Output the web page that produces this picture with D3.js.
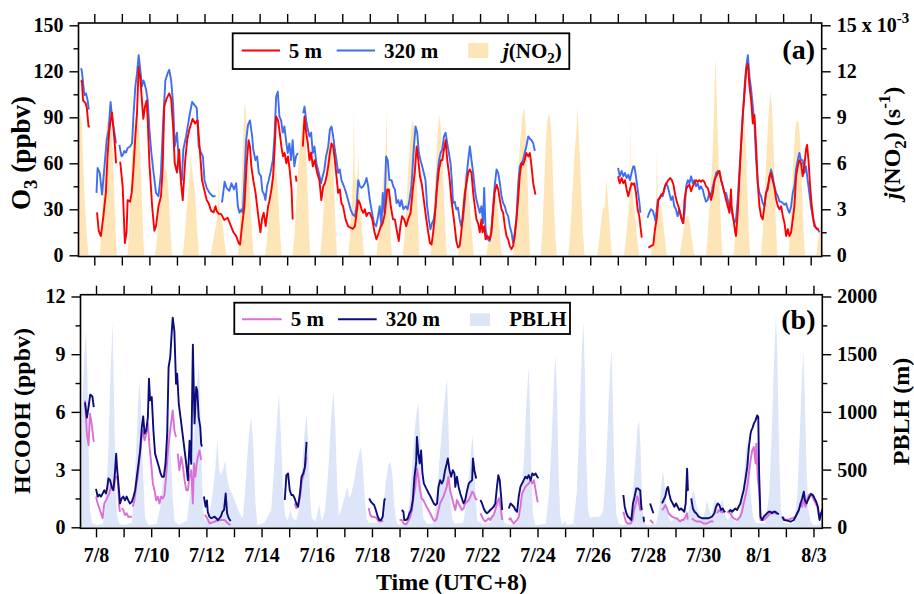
<!DOCTYPE html>
<html><head><meta charset="utf-8">
<script src="https://cdn.jsdelivr.net/npm/d3@7"></script>
<style>
body{margin:0;background:#fff;}
svg{display:block;}
</style></head><body>
<svg id="chart" width="914" height="594"></svg>
<script>
// ---------------- DATA ----------------
const dayTicks = [8,9,10,11,12,13,14,15,16,17,18,19,20,21,22,23,24,25,26,27,28,29,30,31,32,33,34];
const labelDays = [8,10,12,14,16,18,20,22,24,26,28,30,32,34];
const labelText = ["7/8","7/10","7/12","7/14","7/16","7/18","7/20","7/22","7/24","7/26","7/28","7/30","8/1","8/3"];
const o3Ticks = [0,30,60,90,120,150], o3Minor = [15,45,75,105,135];
const jTicks = [0,3,6,9,12,15], jMinor = [1.5,4.5,7.5,10.5,13.5];
const hcTicks = [0,3,6,9,12], hcMinor = [1.5,4.5,7.5,10.5];
const pbTicks = [0,500,1000,1500,2000], pbMinor = [250,750,1250,1750];

// time = day of July (8/1 = 32); O3 in ppbv
const o3_5m = [
[7.52,113],[7.55,114],[7.59,101],[7.64,100],[7.69,99],[7.73,96],[7.77,88],[7.79,84],[7.84,84],null,
[8.1,28],[8.16,16],[8.24,12.5],[8.33,25.5],[8.42,40.7],[8.48,64.5],[8.54,80],[8.59,88],[8.64,93],[8.7,82],[8.75,71],[8.79,60],null,
[8.94,61],[9.03,45],[9.11,8],[9.17,15],[9.21,36],[9.3,35],[9.36,41],[9.42,56],[9.49,77.5],[9.55,92.6],[9.61,123],[9.63,118],[9.66,118],[9.72,103],[9.78,89],[9.84,97],[9.9,101],[9.94,88],[10.0,60],[10.1,32],[10.18,16],[10.24,19],[10.33,32],[10.42,38.5],[10.48,56],[10.54,97],[10.62,102],[10.72,105.6],[10.79,102],[10.86,84],[10.92,60],[11.0,54],[11.08,69],[11.14,49],[11.21,36],[11.3,62],[11.37,75],[11.45,82],[11.57,89],[11.66,86],[11.75,88],[11.82,71],[11.91,49],[12.0,42],[12.08,36],[12.15,34],[12.24,29],[12.33,28],[12.4,32],[12.44,29],[12.52,27],[12.6,27],[12.72,23],[12.84,24.5],[12.96,19],[13.05,15],[13.15,12.5],[13.24,8],[13.29,7],[13.36,19],[13.45,32],[13.53,60],[13.6,75],[13.65,71],[13.7,58],[13.77,49],[13.85,41],[13.97,23],[14.03,15],[14.09,24],[14.15,27.7],[14.22,19],[14.31,32],[14.36,36],[14.43,43],[14.49,51.5],[14.55,71],[14.6,90.5],[14.67,88],[14.73,80],[14.79,71],[14.85,64.5],[14.91,66.7],[14.97,60],[15.03,64.5],[15.09,56],[15.16,43],[15.2,23.4],null,
[15.31,52],[15.34,48],null,
[15.57,71],[15.63,90.5],[15.69,80],[15.75,73],[15.81,62],[15.87,67],[15.93,58],[16.0,62],[16.09,53.7],[16.17,49],[16.24,36],[16.31,45],[16.37,47],[16.43,51.5],[16.49,58],[16.55,66.7],[16.61,73],[16.67,71],[16.73,62],[16.79,51.5],[16.85,40.7],[16.91,43],[16.97,34],[17.03,32],[17.12,23.4],[17.21,19],[17.3,18],[17.38,17.3],[17.46,19],[17.52,27.7],[17.58,36],[17.64,34],[17.7,30],[17.76,27.7],[17.82,30],[17.88,25.5],[17.94,27.7],[18.0,27.7],[18.09,23.4],[18.17,15],[18.24,10.4],[18.33,15],[18.4,19],[18.47,21],[18.55,27.7],[18.63,43],[18.69,43],[18.76,32],[18.84,23.4],[18.91,23.4],[18.99,15],[19.05,9.3],[19.11,19],[19.17,25.5],[19.25,23.4],[19.32,19],[19.39,23.4],[19.48,27.7],[19.56,43],[19.63,53.7],[19.7,71],[19.76,62],[19.82,51.5],[19.88,47],[19.96,36],[20.05,23.4],[20.12,15],[20.18,8],[20.24,7],[20.3,15],[20.36,25.5],[20.42,40.7],[20.51,56],[20.58,62],[20.63,62],[20.69,69],[20.75,75],[20.81,62],[20.87,53.7],[20.9,49],[20.96,36],[21.02,27.7],[21.08,19],[21.14,9.3],[21.2,5],[21.26,6],[21.32,15],[21.38,27.7],[21.45,40.7],[21.51,47],[21.57,53.7],[21.63,56],[21.69,53.7],[21.75,40.7],[21.81,32],[21.87,23.4],[21.93,21],[21.99,15],[22.05,23.4],[22.09,15],[22.15,19],[22.2,10.4],[22.27,12.6],[22.35,10.4],[22.41,15],[22.47,27.7],[22.53,40.7],[22.6,46],[22.66,43],[22.72,36],[22.78,30],[22.84,27.7],[22.9,19],[22.96,12.6],[23.02,10.4],[23.08,6],[23.14,4],[23.2,6],[23.26,12.6],[23.32,23.4],[23.38,36],[23.44,51.5],[23.5,60],[23.56,59],[23.62,62],[23.68,66.7],[23.75,64.5],[23.81,66.7],[23.87,58],[23.93,47],[24.01,39.6],null,
[27.01,51.5],[27.07,47],[27.14,50.4],[27.2,47],[27.26,49],[27.32,43],[27.38,38.5],[27.44,43],[27.5,47],[27.56,46],[27.6,47],[27.66,40.7],[27.72,30],[27.78,25.5],[27.82,19],[27.87,11.5],null,
[28.11,5],[28.2,6],[28.29,7],[28.35,17],[28.41,23.4],[28.47,36],[28.53,37.4],[28.59,39.6],[28.65,40.7],[28.71,45],[28.77,47],[28.83,49],[28.9,50.4],[28.96,49],[29.02,46],[29.08,39.6],[29.14,35],[29.2,32],[29.26,27.7],[29.32,23.4],[29.38,21],[29.42,36],[29.48,43],[29.54,45],[29.6,46],[29.66,41.8],[29.72,45],[29.78,47],[29.84,49],[29.9,48],[29.96,49],[30.02,48],[30.08,49],[30.14,48],[30.2,45],[30.26,44],[30.32,40.7],[30.38,36],[30.45,40.7],[30.51,49],[30.57,51.5],[30.63,53.7],[30.69,55],[30.75,49],[30.81,45],[30.87,40.7],[30.93,36],[30.99,32],[31.05,27.7],[31.11,43],[31.13,32],[31.2,23.4],[31.26,15],[31.29,12.6],[31.35,27.7],[31.41,49],[31.47,71],[31.53,90.5],[31.6,105.6],[31.66,121],[31.72,125],[31.78,110],[31.84,101],[31.9,86],[31.96,91.5],[32.02,71],[32.08,47],[32.14,32],[32.2,25.5],[32.26,23.4],[32.32,32],[32.38,40.7],[32.44,43],[32.5,51.5],[32.56,53.7],[32.62,49],[32.68,45],[32.75,36],[32.81,32],[32.87,30],[32.93,32],[32.99,25.5],[33.05,21],[33.11,12.6],[33.17,17],[33.23,12.6],[33.29,15],[33.35,23.4],[33.41,32],[33.47,51.5],[33.53,58],[33.59,62],[33.65,60],[33.71,51.5],[33.77,58],[33.83,69],[33.87,72],[33.92,62],[33.98,45],[34.04,32],[34.1,23.4],[34.16,19],[34.23,17],[34.3,17]
];

const o3_320m = [
[7.52,122],[7.55,120],[7.58,115],[7.64,104.5],[7.7,105.6],[7.76,101],[7.8,95],null,
[8.08,40.7],[8.12,57],[8.2,53.7],[8.28,39.6],[8.36,56],[8.45,75],[8.52,82],[8.59,100],[8.66,88],[8.73,80],[8.79,73],null,
[8.91,72],[8.99,64.5],[9.05,66],[9.09,68],[9.15,67],[9.21,70],[9.3,71],[9.37,73],[9.42,90.5],[9.49,110],[9.55,118.6],[9.61,130.5],[9.67,121],[9.73,110],[9.78,114],[9.81,113],[9.88,108],[9.94,101],[10.0,82],[10.07,67],[10.15,54],[10.24,40.7],[10.33,38.5],[10.42,54],[10.5,88],[10.58,114],[10.66,118.6],[10.72,121],[10.79,114],[10.86,99],[10.92,71],[11.0,80],[11.08,58],[11.18,49],[11.23,69],[11.33,77.5],[11.45,90.5],[11.55,100],[11.64,98],[11.72,96],[11.79,71],[11.88,66.7],[11.94,64.5],[12.0,49],[12.08,44],[12.18,40.7],[12.3,38.5],[12.4,38.5],null,
[12.6,35],[12.64,35],[12.73,48],[12.8,44],[12.9,42],[12.98,47],[13.07,43],[13.15,47],[13.21,32],[13.27,27.7],[13.35,30],[13.39,27.7],[13.45,49],[13.51,75],[13.58,85],[13.65,88],[13.73,77.5],[13.77,69],[13.85,62],[13.91,64.5],[13.97,53.7],[14.05,51.5],[14.1,42],[14.16,40],[14.21,36],[14.27,45],[14.33,49],[14.39,53.7],[14.48,62],[14.54,77.5],[14.6,103.5],[14.66,106.7],[14.72,90.5],[14.78,88],[14.84,80],[14.9,84],[14.96,75],[15.02,66.7],[15.08,73],[15.14,62],[15.2,75],[15.26,58],[15.32,64.5],[15.39,66.7],null,
[15.58,92.6],[15.63,97],[15.69,88],[15.75,82],[15.81,77.5],[15.87,80],[15.93,66.7],[15.99,71],[16.06,60],[16.15,53.7],[16.23,47],[16.29,51.5],[16.35,56],[16.41,64.5],[16.49,71],[16.55,82],[16.61,84],[16.67,77.5],[16.73,69],[16.79,62],[16.85,53.7],[16.91,56],[16.97,49],[17.06,45],[17.14,40.7],[17.21,36],[17.3,30],[17.38,26.6],[17.46,25.5],[17.52,32],[17.58,49],[17.64,45],[17.7,44],[17.76,45],[17.82,47],[17.88,50.4],[17.94,45],[18.0,36],[18.06,30],[18.15,21],[18.23,19],[18.3,25.5],[18.36,32],[18.42,19],[18.47,40.7],[18.53,27.7],[18.59,64.5],[18.65,62],[18.71,49],[18.79,49],[18.85,45],[18.91,43],[18.97,34],[19.03,36],[19.09,32],[19.15,36],[19.22,30],[19.3,32],[19.37,30],[19.44,36],[19.51,45],[19.6,71],[19.66,84],[19.72,80],[19.78,66.7],[19.84,62],[19.9,58],[19.96,53.7],[20.02,49],[20.08,32],[20.14,23.4],[20.2,17],[20.26,21],[20.32,23.4],[20.39,32],[20.45,51.5],[20.51,62],[20.57,66.7],[20.63,69],[20.69,77.5],[20.75,80],[20.81,73],[20.87,66.7],[20.93,60],[20.98,48],[21.02,34],[21.08,35],[21.14,30],[21.2,31],[21.26,23.4],[21.32,19],[21.38,23.4],[21.45,36],[21.51,51.5],[21.57,62],[21.63,71],[21.69,62],[21.75,53.7],[21.81,43],[21.87,36],[21.93,32],[21.99,27.7],[22.05,32],[22.11,21],[22.15,44],[22.2,17],[22.27,10.4],[22.35,9.3],[22.41,15],[22.47,32],[22.53,45],[22.6,56],[22.66,53.7],[22.72,47],[22.78,38.5],[22.84,34],[22.9,32],[22.96,27.7],[23.02,25.5],[23.08,19],[23.14,15],[23.2,8],[23.26,15],[23.32,23.4],[23.38,45],[23.44,58],[23.5,60],[23.56,62],[23.62,66.7],[23.68,71],[23.75,77.5],[23.81,76],[23.87,75],[23.93,73],[23.99,68],null,
[27.01,57],[27.07,51.5],[27.14,55],[27.2,51.5],[27.26,53.7],[27.32,50.4],[27.38,52.6],[27.44,49],[27.5,53.7],[27.56,58],[27.6,58],[27.66,51.5],[27.72,43],[27.78,35],[27.82,27.7],null,
[28.08,24.5],[28.14,27.7],[28.2,30],[28.27,29],[28.33,25.5],[28.37,22.3],[28.45,36],[28.51,37.4],[28.57,39.6],[28.63,38.5],[28.69,43],[28.75,47],[28.81,45],[28.87,40.7],[28.93,36],[28.99,38.5],[29.05,32],[29.11,30],[29.17,25.5],[29.23,30],[29.29,25.5],[29.36,21],[29.42,27.7],[29.48,45],[29.54,49],[29.6,47],[29.66,51.5],[29.72,47],[29.78,49],[29.84,45],[29.9,47],[29.96,43],[30.02,45],[30.08,43],[30.14,38.5],[30.2,35],[30.26,36],[30.32,40.7],[30.38,38.5],[30.45,45],[30.51,49],[30.57,53.7],[30.63,55],[30.69,53.7],[30.75,49],[30.81,45],[30.87,40.7],[30.93,40.7],[30.99,36],[31.05,32],[31.11,30],[31.17,25.5],[31.23,21],[31.29,23.4],[31.35,36],[31.41,53.7],[31.47,71],[31.53,88],[31.6,110],[31.66,123],[31.72,130.5],[31.78,116.5],[31.84,108],[31.9,97],[31.96,86],[32.02,62],[32.08,47],[32.14,40.7],[32.2,38.5],[32.26,34],[32.32,32],[32.38,40.7],[32.44,45],[32.5,49],[32.56,56],[32.62,51.5],[32.68,45],[32.75,40.7],[32.81,38.5],[32.87,35],[32.93,35],[32.99,34],[33.05,33],[33.11,34],[33.17,30],[33.23,27.7],[33.29,32],[33.35,40.7],[33.41,45],[33.47,56],[33.53,62],[33.59,66.7],[33.65,62],[33.71,62],[33.77,53.7],[33.83,58],[33.89,49],[33.95,40.7],[34.01,32],[34.07,25.5],[34.13,19],[34.2,18],[34.26,17],[34.32,15]
];

// j(NO2) in 10^-3 s^-1
const jno2 = [
[7.4,7.8],[7.45,8.8],[7.5,9.2],[7.55,8.6],[7.6,6.0],[7.63,4.6],[7.67,3.0],[7.72,1.5],[7.77,0.4],[7.8,0],
[8.2,0],[8.25,1.2],[8.3,3.5],[8.35,5.8],[8.4,7.5],[8.46,8.6],[8.54,9.1],[8.6,8.8],[8.65,7.8],[8.7,5.5],[8.75,2.8],[8.79,0.8],[8.82,0],
[9.2,0],[9.25,1.2],[9.3,3.5],[9.35,5.8],[9.41,7.8],[9.47,8.9],[9.54,9.2],[9.6,8.8],[9.65,7.5],[9.7,5.0],[9.75,2.5],[9.79,0.6],[9.82,0],
[10.2,0],[10.26,0.8],[10.32,2.2],[10.38,3.5],[10.45,4.6],[10.52,5.4],[10.58,5.8],[10.64,5.3],[10.7,4.0],[10.75,2.2],[10.8,0.5],[10.82,0],
[11.2,0],[11.26,0.8],[11.32,2.2],[11.38,3.6],[11.44,4.8],[11.5,6.8],[11.54,5.6],[11.6,5.0],[11.66,3.8],[11.72,2.0],[11.78,0.5],[11.8,0],
[12.22,0],[12.28,0.6],[12.35,1.3],[12.42,2.0],[12.48,2.8],[12.52,5.1],[12.55,3.0],[12.6,2.4],[12.66,2.0],[12.72,1.0],[12.77,0.3],[12.8,0],
[13.2,0],[13.26,1.2],[13.32,3.5],[13.37,6.0],[13.42,8.5],[13.46,9.9],[13.5,9.5],[13.55,8.0],[13.6,6.0],[13.66,3.8],[13.72,1.6],[13.77,0.3],[13.8,0],
[14.2,0],[14.26,0.8],[14.32,2.2],[14.38,3.8],[14.45,5.5],[14.52,6.5],[14.58,6.0],[14.64,4.8],[14.7,3.0],[14.75,1.2],[14.8,0],
[15.2,0],[15.26,1.2],[15.32,3.2],[15.38,5.2],[15.45,7.0],[15.52,8.2],[15.6,9.0],[15.65,8.4],[15.7,6.5],[15.75,3.8],[15.8,1.2],[15.84,0],
[16.2,0],[16.26,1.2],[16.32,3.0],[16.38,5.0],[16.45,6.8],[16.51,7.9],[16.57,8.4],[16.62,7.8],[16.67,6.0],[16.72,3.5],[16.77,1.2],[16.81,0],
[17.22,0],[17.27,1.0],[17.32,2.8],[17.37,4.5],[17.4,6.0],[17.42,9.6],[17.45,5.5],[17.5,4.8],[17.55,5.2],[17.58,6.7],[17.62,4.5],[17.67,3.0],[17.72,1.5],[17.77,0.4],[17.8,0],
[18.24,0],[18.3,1.0],[18.36,2.5],[18.42,3.8],[18.48,4.8],[18.54,6.0],[18.58,7.0],[18.6,9.7],[18.63,6.5],[18.68,4.5],[18.73,2.5],[18.77,0.8],[18.8,0],
[19.2,0],[19.26,1.2],[19.32,3.2],[19.38,5.2],[19.45,7.2],[19.51,8.4],[19.56,8.9],[19.62,8.2],[19.67,6.3],[19.72,3.8],[19.77,1.3],[19.8,0],
[20.2,0],[20.26,1.2],[20.32,3.2],[20.38,5.2],[20.44,7.3],[20.51,9.15],[20.56,8.6],[20.62,7.0],[20.67,4.8],[20.72,2.5],[20.77,0.6],[20.8,0],
[21.2,0],[21.26,0.8],[21.32,2.2],[21.38,3.8],[21.45,5.5],[21.52,5.0],[21.58,4.2],[21.64,3.0],[21.7,1.6],[21.75,0.5],[21.78,0],
[22.22,0],[22.28,0.6],[22.34,1.5],[22.4,2.4],[22.47,3.3],[22.55,4.0],[22.6,3.6],[22.66,2.7],[22.72,1.5],[22.77,0.4],[22.8,0],
[23.2,0],[23.26,1.2],[23.32,3.2],[23.38,5.2],[23.45,7.3],[23.52,8.8],[23.58,9.6],[23.63,9.2],[23.68,7.5],[23.73,4.5],[23.78,1.6],[23.82,0],
[24.2,0],[24.26,1.5],[24.31,3.8],[24.36,6.2],[24.42,8.3],[24.47,9.15],[24.53,9.1],[24.58,8.2],[24.63,6.0],[24.68,3.3],[24.74,1.0],[24.78,0],
[25.2,0],[25.26,1.2],[25.32,3.0],[25.38,5.0],[25.44,6.8],[25.5,8.2],[25.54,9.65],[25.58,8.0],[25.63,6.0],[25.68,3.8],[25.73,1.6],[25.78,0.3],[25.8,0],
[26.24,0],[26.3,0.6],[26.36,1.6],[26.42,2.6],[26.47,3.2],[26.52,3.0],[26.56,4.2],[26.59,4.9],[26.63,4.0],[26.68,2.6],[26.73,1.2],[26.78,0.2],[26.8,0],
[27.22,0],[27.28,0.8],[27.34,2.0],[27.4,3.2],[27.45,4.0],[27.47,9.05],[27.5,4.5],[27.55,3.8],[27.6,3.0],[27.66,2.0],[27.72,0.8],[27.78,0],
[28.2,0],[28.26,0.8],[28.32,2.0],[28.38,3.0],[28.42,6.7],[28.45,3.4],[28.5,3.3],[28.56,3.2],[28.62,2.6],[28.68,1.6],[28.74,0.5],[28.78,0],
[29.24,0],[29.3,0.6],[29.36,1.4],[29.43,2.1],[29.5,2.6],[29.57,2.5],[29.63,1.9],[29.69,1.1],[29.74,0.4],[29.78,0],
[30.2,0],[30.26,1.2],[30.32,3.0],[30.38,4.8],[30.43,6.2],[30.48,8.5],[30.51,11.0],[30.54,12.9],[30.57,11.5],[30.61,9.0],[30.66,6.0],[30.71,3.5],[30.76,1.2],[30.8,0],
[31.2,0],[31.26,1.2],[31.32,3.2],[31.38,5.2],[31.44,7.2],[31.5,8.6],[31.55,9.2],[31.6,8.8],[31.65,7.0],[31.7,4.3],[31.75,1.6],[31.8,0],
[32.2,0],[32.26,1.5],[32.32,3.8],[32.38,6.0],[32.44,8.2],[32.49,9.6],[32.54,10.7],[32.59,9.8],[32.64,7.8],[32.69,4.8],[32.74,2.0],[32.79,0],
[33.2,0],[33.26,1.8],[33.32,4.2],[33.38,6.5],[33.44,8.2],[33.5,8.8],[33.56,8.7],[33.62,7.6],[33.67,5.3],[33.72,2.6],[33.77,0.6],[33.8,0],
[34.2,0],[34.26,0.8],[34.32,1.7],[34.38,2.4],[34.42,2.8]
];

// HCOOH in ppbv
const hc_5m = [
[7.6,6.6],[7.67,4.87],[7.73,4.27],[7.78,5.9],[7.84,5.4],[7.92,4.44],null,
[8.0,1.6],[8.06,1.24],[8.12,1.0],[8.18,0.73],[8.24,0.47],[8.3,1.24],[8.36,1.4],[8.42,1.6],[8.48,1.76],[8.54,2.1],[8.6,1.93],[8.67,2.28],[8.73,2.63],[8.79,2.63],[8.84,1.07],[8.87,0.8],null,
[8.93,1.0],[8.99,0.9],[9.05,0.64],[9.11,0.73],[9.17,0.55],[9.3,0.55],null,
[9.33,1.07],[9.39,1.4],[9.45,2.1],[9.51,2.63],[9.57,3.5],[9.63,4.35],[9.69,5.04],[9.76,4.52],[9.82,4.87],[9.88,5.4],[9.94,4.18],[10.0,3.32],[10.06,2.28],[10.12,1.93],[10.18,1.4],[10.24,1.6],[10.3,1.24],[10.36,1.6],[10.42,1.5],[10.48,1.68],[10.54,2.63],[10.6,3.83],[10.66,4.7],[10.72,5.4],[10.78,6.08],[10.84,5.04],[10.9,4.7],null,
[10.96,3.83],[11.02,2.97],[11.09,3.66],[11.15,3.14],[11.21,2.45],[11.27,1.93],[11.33,1.93],[11.39,2.63],[11.45,2.97],[11.51,1.24],[11.55,3.32],[11.6,2.63],[11.65,3.32],[11.69,3.66],[11.75,4.0],[11.81,3.5],null,
[11.94,0.64],[12.0,0.55],[12.12,0.2],[12.3,0.3],[12.48,0.38],[12.66,0.38],[12.78,0.2],[12.88,0.12],null,
[15.2,1.24],[15.26,1.0],[15.32,1.07],[15.4,1.6],[15.46,2.45],[15.52,2.71],[15.59,3.2],[15.63,3.66],null,
[17.88,1.0],[17.94,0.64],[18.0,0.55],[18.08,0.55],[18.17,0.47],[18.24,0.3],[18.33,0.3],[18.41,0.33],null,
[19.0,0.38],[19.08,0.38],[19.15,0.2],[19.21,0.15],[19.27,0.2],[19.33,0.38],[19.39,0.55],[19.45,0.9],[19.51,1.6],[19.57,2.1],[19.63,3.05],[19.68,2.63],[19.74,1.93],[19.8,1.5],[19.86,1.42],[19.92,1.24],[19.98,1.07],[20.05,0.9],[20.11,0.73],[20.17,0.55],[20.23,0.38],[20.29,0.33],[20.35,0.47],[20.41,0.9],[20.47,1.24],[20.53,1.42],[20.59,1.6],[20.65,1.85],[20.71,2.1],[20.77,2.63],[20.83,1.93],[20.89,1.6],[20.95,1.24],[21.02,0.9],[21.08,1.42],[21.14,1.24],[21.2,1.07],[21.26,0.9],[21.32,0.98],[21.38,1.24],[21.45,1.33],[21.51,1.42],[21.57,1.6],[21.63,1.85],[21.69,1.76],[21.75,1.5],[21.81,1.42],null,
[21.93,0.73],[21.99,0.55],[22.05,0.38],[22.11,0.3],[22.17,0.38],[22.23,0.47],[22.29,0.38],[22.35,0.55],[22.41,0.64],[22.47,0.9],[22.53,1.24],[22.6,1.5],[22.66,1.07],[22.72,0.38],null,
[22.96,0.38],[23.02,0.47],[23.08,0.3],[23.14,0.2],[23.2,0.3],[23.26,0.38],[23.32,0.55],[23.38,1.07],[23.44,1.76],[23.5,1.93],[23.56,2.1],[23.62,2.2],[23.68,2.28],[23.75,2.45],[23.81,2.28],[23.87,2.45],[23.93,1.93],[23.99,1.42],[24.01,1.3],null,
[27.11,0.81],[27.2,0.3],[27.26,0.2],[27.38,0.2],[27.44,0.38],[27.5,0.9],[27.56,1.24],[27.62,1.6],[27.66,1.42],[27.72,0.9],[27.75,0.85],null,
[27.84,0.3],[27.86,0.25],null,[28.08,0.38],[28.2,0.2],null,
[28.51,0.9],[28.57,0.98],[28.63,1.16],[28.69,0.98],[28.75,0.73],[28.81,0.64],[28.87,0.55],[28.93,0.52],[28.99,0.47],[29.05,0.47],[29.11,0.38],[29.17,0.3],[29.23,0.38],[29.29,0.38],[29.36,0.55],[29.42,0.73],[29.44,0.4],null,
[29.6,0.47],[29.66,0.38],[29.78,0.3],[29.9,0.3],[30.02,0.2],[30.14,0.2],[30.26,0.3],[30.38,0.3],null,
[30.51,0.73],[30.57,0.9],[30.63,0.81],[30.69,0.81],[30.73,0.75],null,
[30.87,0.81],[30.99,0.73],[31.05,0.55],[31.11,0.47],[31.23,0.38],[31.35,0.55],[31.41,0.81],[31.47,1.24],[31.53,1.6],[31.6,2.1],[31.66,2.8],[31.72,3.49],[31.78,4.0],[31.84,4.18],[31.9,3.32],[31.93,4.35],[31.98,2.63],[32.03,1.93],[32.08,0.38],[32.2,0.38],[32.32,0.55],[32.44,0.73],[32.56,0.81],[32.62,0.73],[32.68,0.72],null,
[32.87,0.55],[32.99,0.38],[33.11,0.41],[33.23,0.47],[33.35,0.55],[33.41,0.73],[33.47,0.9],[33.53,1.24],[33.59,1.07],[33.65,1.5],[33.71,1.07],[33.77,1.42],[33.83,1.68],[33.9,1.76],[33.96,1.6],[34.02,1.42],[34.08,1.24],[34.14,1.07],[34.2,0.55],[34.26,0.73],[34.33,0.86]
];

const hc_320m = [
[7.6,6.5],[7.67,5.7],[7.73,6.25],[7.79,6.9],[7.87,6.8],[7.92,6.25],null,
[8.0,2.0],[8.06,1.6],[8.12,1.7],[8.18,1.6],[8.24,1.76],[8.3,1.93],[8.36,1.76],[8.4,2.0],[8.45,2.54],[8.51,2.45],[8.57,2.1],[8.63,1.93],[8.69,2.9],[8.73,3.83],[8.76,3.14],[8.81,2.28],[8.87,1.24],[8.93,1.5],[8.99,1.6],[9.05,1.4],[9.11,1.6],[9.17,1.4],[9.23,1.24],[9.3,1.33],[9.36,1.6],[9.42,1.93],[9.48,2.63],[9.54,3.3],[9.6,4.0],[9.66,5.2],[9.71,5.77],[9.76,4.87],[9.82,5.04],[9.88,5.73],[9.92,7.72],[9.96,6.6],[10.02,6.77],[10.08,5.04],[10.14,3.83],[10.21,3.49],[10.28,3.14],[10.34,2.8],[10.39,2.63],[10.46,2.63],[10.52,3.32],[10.58,4.87],[10.63,8.32],[10.69,8.84],[10.74,10.05],[10.78,10.9],[10.84,10.2],[10.9,7.46],[10.94,7.98],[11.0,6.42],[11.09,5.4],[11.15,4.7],[11.21,4.0],[11.27,3.3],[11.33,2.45],[11.39,4.5],[11.45,3.3],[11.51,9.5],[11.57,5.4],[11.63,7.3],[11.67,7.1],[11.72,5.73],[11.78,5.2],[11.81,4.35],[11.84,4.2],null,
[11.91,1.6],[11.97,1.07],[12.02,1.4],[12.05,0.8],[12.11,0.55],[12.18,0.47],[12.3,0.55],[12.42,0.38],[12.52,0.55],[12.58,0.8],[12.64,0.9],[12.7,1.76],[12.75,0.73],[12.81,0.47],[12.88,0.33],null,
[14.84,1.42],[14.9,2.71],[14.96,2.8],[15.02,1.93],[15.08,1.68],[15.14,1.68],[15.2,1.5],[15.26,1.24],[15.32,1.07],[15.39,1.76],[15.45,2.63],[15.51,2.8],[15.57,3.14],[15.63,4.44],null,
[17.9,1.5],[17.96,1.33],[18.02,1.24],[18.08,1.16],[18.14,0.9],[18.21,0.55],[18.27,0.38],[18.33,0.38],[18.39,0.55],[18.45,1.42],[18.48,1.5],null,
[19.08,0.9],[19.14,0.81],[19.17,0.38],[19.24,0.38],[19.3,0.47],[19.36,0.73],[19.42,0.9],[19.48,1.42],[19.54,2.63],[19.6,3.32],[19.63,4.7],[19.68,3.83],[19.73,3.32],[19.78,4.0],[19.83,2.8],[19.88,2.28],[19.94,2.1],[20.0,1.93],[20.06,1.76],[20.12,1.6],[20.18,1.42],[20.24,1.24],[20.3,1.16],[20.36,1.24],[20.41,2.1],[20.47,2.45],[20.53,2.28],[20.59,2.45],[20.65,2.97],[20.71,3.32],[20.75,3.58],[20.81,2.97],[20.87,2.63],[20.93,2.97],[20.99,2.8],[21.02,2.1],[21.08,2.63],[21.14,2.1],[21.2,1.76],[21.26,1.5],[21.32,1.24],[21.38,1.42],[21.45,1.93],[21.51,2.28],[21.57,2.37],[21.63,2.45],[21.66,3.58],[21.71,2.97],[21.78,2.54],null,
[21.93,1.42],[21.99,1.24],[22.05,0.98],[22.11,0.81],[22.17,0.73],[22.23,0.81],[22.29,0.9],[22.35,0.98],[22.41,1.07],[22.47,1.24],[22.53,2.1],[22.58,2.71],[22.63,2.45],[22.68,1.6],[22.72,0.9],null,
[22.96,0.98],[23.02,1.24],[23.08,1.16],[23.14,1.07],[23.2,0.9],[23.26,0.81],[23.32,1.6],[23.38,2.1],[23.44,2.28],[23.5,2.45],[23.56,2.63],[23.62,2.54],[23.68,2.71],[23.75,2.45],[23.81,2.8],[23.87,2.71],[23.93,2.8],[23.99,2.63],[24.03,2.55],null,
[27.11,1.68],[27.16,1.07],[27.22,0.73],[27.28,0.55],[27.34,0.47],[27.4,0.38],[27.46,1.24],[27.52,1.6],[27.58,2.02],[27.64,2.02],[27.7,1.93],[27.72,1.93],[27.76,1.07],[27.78,0.9],null,
[27.84,0.55],[27.86,0.3],null,[28.08,1.24],[28.14,0.98],[28.2,0.73],null,
[28.51,1.24],[28.57,1.42],[28.63,1.6],[28.69,2.02],[28.73,2.1],[28.77,1.76],[28.83,1.42],[28.9,1.24],[28.96,1.07],[29.02,1.24],[29.08,1.07],[29.14,0.9],[29.2,0.98],[29.26,0.9],[29.32,0.81],[29.37,1.24],[29.42,3.05],[29.45,1.93],[29.47,1.9],null,
[29.57,1.5],[29.63,0.98],[29.69,0.81],[29.75,0.73],[29.84,0.55],[29.96,0.47],[30.08,0.47],[30.2,0.47],[30.32,0.55],[30.41,0.73],[30.47,1.07],[30.53,1.24],[30.59,1.16],[30.65,0.9],[30.71,0.98],[30.77,0.81],[30.8,0.86],null,
[30.93,0.81],[30.99,0.9],[31.05,0.81],[31.11,0.9],[31.17,0.98],[31.23,0.9],[31.29,1.07],[31.35,1.24],[31.41,1.6],[31.47,1.93],[31.53,2.45],[31.6,3.14],[31.66,4.18],[31.72,4.87],[31.75,5.04],[31.8,5.2],[31.84,5.39],[31.9,5.56],[31.96,5.82],[32.0,5.73],[32.03,2.8],[32.08,0.55],[32.14,0.38],[32.2,0.55],[32.26,0.64],[32.32,0.73],[32.38,0.81],[32.44,0.81],[32.5,0.73],[32.56,0.81],[32.62,0.81],[32.68,0.73],[32.75,0.69],null,
[32.87,0.55],[32.93,0.38],[33.05,0.35],[33.17,0.29],[33.29,0.38],[33.41,0.73],[33.47,0.9],[33.53,1.24],[33.59,1.5],[33.65,1.85],[33.69,1.42],[33.75,1.24],[33.8,1.42],[33.86,1.6],[33.92,1.73],[33.98,1.68],[34.04,1.5],[34.1,1.33],[34.16,1.07],[34.22,0.38],[34.28,0.73],[34.33,0.93]
];

// PBLH in m
const pblh = [
[7.4,500],[7.46,800],[7.52,1150],[7.58,1500],[7.64,1704],[7.69,1300],[7.74,600],[7.78,150],[7.85,40],[8.0,20],[8.25,30],[8.35,200],[8.45,700],[8.52,1300],[8.6,1776],[8.64,1300],[8.7,500],[8.76,100],[8.85,30],[9.0,20],[9.3,40],[9.38,300],[9.46,700],[9.52,1050],[9.57,1272],[9.62,1100],[9.7,500],[9.78,80],[9.9,20],[10.2,30],[10.35,200],[10.45,500],[10.55,800],[10.62,900],[10.7,700],[10.78,250],[10.85,50],[11.0,20],[11.3,60],[11.45,400],[11.55,800],[11.65,1200],[11.72,1416],[11.77,1200],[11.82,600],[11.88,150],[11.95,50],[12.1,80],[12.2,250],[12.3,450],[12.4,754],[12.46,500],[12.52,450],[12.6,500],[12.68,580],[12.75,420],[12.85,330],[12.95,280],[13.05,220],[13.15,150],[13.25,100],[13.32,80],[13.4,300],[13.48,600],[13.56,850],[13.63,950],[13.7,700],[13.78,200],[13.85,20],[14.1,40],[14.35,150],[14.45,500],[14.55,900],[14.63,1171],[14.7,800],[14.78,300],[14.85,100],[14.95,60],[15.05,150],[15.12,80],[15.25,60],[15.35,150],[15.45,450],[15.55,800],[15.63,984],[15.7,700],[15.76,250],[15.82,80],[15.95,50],[16.05,150],[16.09,207],[16.14,100],[16.2,60],[16.3,150],[16.42,500],[16.52,950],[16.6,1186],[16.67,900],[16.74,350],[16.8,100],[16.88,150],[17.0,250],[17.08,330],[17.12,350],[17.18,250],[17.26,300],[17.35,400],[17.45,550],[17.55,650],[17.6,696],[17.66,550],[17.74,250],[17.8,80],[17.88,40],[18.3,40],[18.4,150],[18.5,400],[18.6,540],[18.67,567],[18.74,450],[18.8,200],[18.88,60],[18.95,20],[19.25,30],[19.35,200],[19.45,500],[19.55,850],[19.62,1000],[19.68,1071],[19.74,800],[19.8,300],[19.86,80],[20.0,30],[20.2,30],[20.3,150],[20.42,500],[20.55,900],[20.65,1150],[20.72,1286],[20.77,900],[20.83,300],[20.9,80],[21.0,30],[21.3,40],[21.42,200],[21.52,450],[21.6,700],[21.65,797],[21.7,600],[21.76,250],[21.82,60],[22.0,30],[22.3,40],[22.45,150],[22.55,250],[22.62,280],[22.7,150],[22.8,40],[23.0,20],[23.3,40],[23.42,250],[23.52,650],[23.6,1100],[23.68,1387],[23.73,1000],[23.78,400],[23.84,100],[23.92,20],[24.3,30],[24.42,300],[24.52,800],[24.6,1300],[24.65,1488],[24.7,1200],[24.76,500],[24.82,100],[24.9,20],[25.0,60],[25.06,20],[25.3,30],[25.42,300],[25.52,900],[25.6,1500],[25.66,1790],[25.71,1400],[25.77,600],[25.83,150],[25.9,80],[26.0,90],[26.2,90],[26.3,100],[26.38,150],[26.48,500],[26.58,1100],[26.64,1400],[26.68,1545],[26.72,1200],[26.78,500],[26.85,120],[26.95,30],[27.1,20],[27.3,30],[27.42,200],[27.52,500],[27.62,850],[27.68,927],[27.73,700],[27.78,300],[27.84,60],[27.95,20],[28.3,30],[28.4,150],[28.48,350],[28.54,495],[28.6,380],[28.66,200],[28.75,80],[28.85,50],[29.0,80],[29.1,60],[29.2,70],[29.3,80],[29.45,120],[29.55,230],[29.62,300],[29.66,322],[29.72,250],[29.8,150],[29.9,100],[30.0,80],[30.08,150],[30.15,236],[30.22,150],[30.3,100],[30.38,200],[30.45,250],[30.52,180],[30.6,120],[30.68,250],[30.74,200],[30.8,100],[30.9,60],[31.0,100],[31.08,150],[31.15,60],[31.2,40],[31.35,150],[31.45,350],[31.55,650],[31.6,754],[31.66,600],[31.72,300],[31.8,100],[31.9,40],[32.25,30],[32.4,300],[32.5,900],[32.58,1500],[32.64,1848],[32.69,1500],[32.75,700],[32.82,150],[32.9,40],[33.1,30],[33.3,40],[33.42,300],[33.52,900],[33.58,1300],[33.63,1531],[33.68,1200],[33.75,500],[33.82,150],[33.9,50],[34.0,20],[34.2,20],[34.35,40]
];

// ---------------- DRAWING ----------------
const FONT = '"Liberation Serif","Times New Roman",serif';
const C = {red:"#ff0000", blue:"#3f6ef0", jfill:"#fde5b8", orchid:"#da70d6", navy:"#0c0c7c", pfill:"#dde5f9"};
const svg = d3.select("#chart").attr("font-family", FONT).attr("font-weight","bold");

const A = {left:78.5, right:821.7, top:23, bottom:256.5};
const B = {left:80.5, right:822.3, top:294.7, bottom:528.3};

const xA = d3.scaleLinear().domain([7.427, 34.40]).range([A.left, A.right]);
const xB = d3.scaleLinear().domain([7.438, 34.32]).range([B.left, B.right]);
const yO3 = d3.scaleLinear().domain([0,150]).range([255.3, 25.3]);
const yJ  = d3.scaleLinear().domain([0,15]).range([255.3, 25.3]);
const yHC = d3.scaleLinear().domain([0,12]).range([527.3, 296.5]);
const yPB = d3.scaleLinear().domain([0,2000]).range([527.3, 296.5]);

const defs = svg.append("defs");
defs.append("clipPath").attr("id","clipA").append("rect").attr("x",A.left).attr("y",A.top).attr("width",A.right-A.left).attr("height",A.bottom-A.top);
defs.append("clipPath").attr("id","clipB").append("rect").attr("x",B.left).attr("y",B.top).attr("width",B.right-B.left).attr("height",B.bottom-B.top);

const gA = svg.append("g").attr("clip-path","url(#clipA)");
const gB = svg.append("g").attr("clip-path","url(#clipB)");

// areas
gA.append("path").datum(jno2).attr("fill",C.jfill)
  .attr("d", d3.area().x(d=>xA(d[0])).y0(yJ(0)).y1(d=>yJ(d[1])));
gB.append("path").datum(pblh).attr("fill",C.pfill)
  .attr("d", d3.area().x(d=>xB(d[0])).y0(yPB(0)).y1(d=>yPB(d[1])));

function drawLine(g, data, xs, ys, color){
  g.append("path").datum(data).attr("fill","none").attr("stroke",color).attr("stroke-width",1.9)
   .attr("stroke-linejoin","round")
   .attr("d", d3.line().defined(d=>d!==null).x(d=>xs(d[0])).y(d=>ys(d[1])));
}
drawLine(gA, o3_320m, xA, yO3, C.blue);
drawLine(gA, o3_5m, xA, yO3, C.red);
drawLine(gB, hc_5m, xB, yHC, C.orchid);
drawLine(gB, hc_320m, xB, yHC, C.navy);

// axes
function styleAxis(g, fs){
  g.attr("font-family", FONT).attr("font-size", fs||20).attr("font-weight","bold");
  g.select(".domain").remove();
  g.selectAll(".tick line").attr("stroke","#000").attr("stroke-width",1.4);
  g.selectAll(".tick text").attr("fill","#000");
}
function addAxis(axis, tx, ty){
  const g = svg.append("g").attr("transform",`translate(${tx},${ty})`).call(axis);
  styleAxis(g);
  return g;
}
const fmtDay = d => { const i = labelDays.indexOf(d); return i>=0 ? labelText[i] : ""; };

addAxis(d3.axisTop(xA).tickValues(dayTicks).tickSize(9).tickFormat(""), 0, A.top);
addAxis(d3.axisBottom(xA).tickValues(dayTicks).tickSize(9).tickFormat(""), 0, A.bottom);
addAxis(d3.axisTop(xB).tickValues(dayTicks).tickSize(9).tickFormat(""), 0, B.top);
addAxis(d3.axisBottom(xB).tickValues(dayTicks).tickSize(9).tickPadding(11).tickFormat(fmtDay), 0, B.bottom);

addAxis(d3.axisLeft(yO3).tickValues(o3Ticks).tickSize(9).tickPadding(6).tickFormat(d3.format("d")), A.left, 0);
addAxis(d3.axisLeft(yO3).tickValues(o3Minor).tickSize(5).tickFormat(""), A.left, 0);
const jAx = addAxis(d3.axisRight(yJ).tickValues(jTicks).tickSize(9).tickPadding(6).tickFormat(d => d===15 ? "15 x 10" : d3.format("d")(d)), A.right, 0);
addAxis(d3.axisRight(yJ).tickValues(jMinor).tickSize(5).tickFormat(""), A.right, 0);
jAx.selectAll(".tick text").filter(d=>d===15).append("tspan").attr("dy",-9).attr("font-size",15).text("-3");

addAxis(d3.axisLeft(yHC).tickValues(hcTicks).tickSize(9).tickPadding(6).tickFormat(d3.format("d")), B.left, 0);
addAxis(d3.axisLeft(yHC).tickValues(hcMinor).tickSize(5).tickFormat(""), B.left, 0);
addAxis(d3.axisRight(yPB).tickValues(pbTicks).tickSize(9).tickPadding(6).tickFormat(d3.format("d")), B.right, 0);
addAxis(d3.axisRight(yPB).tickValues(pbMinor).tickSize(5).tickFormat(""), B.right, 0);

[A,B].forEach(P => svg.append("rect").attr("x",P.left).attr("y",P.top).attr("width",P.right-P.left).attr("height",P.bottom-P.top)
  .attr("fill","none").attr("stroke","#000").attr("stroke-width",1.6));

function rotTitle(x, y, fs){ return svg.append("text").attr("transform",`translate(${x},${y}) rotate(-90)`).attr("text-anchor","middle").attr("font-size",fs||24).attr("fill","#000"); }
let t = rotTitle(30, 153, 27);
t.append("tspan").text("O");
t.append("tspan").attr("font-size",19).attr("dy",7).text("3");
t.append("tspan").attr("dy",-7).text(" (ppbv)");

t = rotTitle(29.5, 411);
t.text("HCOOH (ppbv)");

t = rotTitle(900, 143);
t.append("tspan").attr("font-style","italic").text("j");
t.append("tspan").text("(NO");
t.append("tspan").attr("font-size",17).attr("dy",6).text("2");
t.append("tspan").attr("dy",-6).text(") (s");
t.append("tspan").attr("font-size",17).attr("dy",-10).text("-1");
t.append("tspan").attr("dy",10).text(")");

t = rotTitle(909, 411.5);
t.text("PBLH (m)");

svg.append("text").attr("x",451.5).attr("y",590).attr("text-anchor","middle").attr("font-size",24).attr("fill","#000").text("Time (UTC+8)");

svg.append("text").attr("x",815).attr("y",59).attr("text-anchor","end").attr("font-size",28).attr("fill","#000").text("(a)");
svg.append("text").attr("x",815.5).attr("y",329).attr("text-anchor","end").attr("font-size",28).attr("fill","#000").text("(b)");

function legendBox(x0,y0,x1,y1){
  svg.append("rect").attr("x",x0).attr("y",y0).attr("width",x1-x0).attr("height",y1-y0).attr("fill","#fff").attr("stroke","#000").attr("stroke-width",1.8);
}
function legLine(x0,x1,y,color){ svg.append("line").attr("x1",x0).attr("x2",x1).attr("y1",y).attr("y2",y).attr("stroke",color).attr("stroke-width",2); }
function legText(x,y){ return svg.append("text").attr("x",x).attr("y",y).attr("font-size",21).attr("fill","#000"); }

legendBox(232.7,33.3,569.3,69);
legLine(241.7,280,50.5,C.red); legText(288.7,57.5).text("5 m");
legLine(336.7,375,50.5,C.blue); legText(384,57.5).text("320 m");
svg.append("rect").attr("x",468.3).attr("y",43).attr("width",20).attr("height",15).attr("fill",C.jfill);
t = legText(503,57.5);
t.append("tspan").attr("font-style","italic").text("j");
t.append("tspan").text("(NO");
t.append("tspan").attr("font-size",15).attr("dy",5).text("2");
t.append("tspan").attr("dy",-5).text(")");

legendBox(234.3,302.7,570,334);
legLine(242,281.7,319.3,C.orchid); legText(290.7,325.5).text("5 m");
legLine(338,376.7,319.3,C.navy); legText(385.7,325.5).text("320 m");
svg.append("rect").attr("x",470).attr("y",313.3).attr("width",20).attr("height",12.7).attr("fill",C.pfill);
legText(509.3,325.5).text("PBLH");
</script>
</body></html>
